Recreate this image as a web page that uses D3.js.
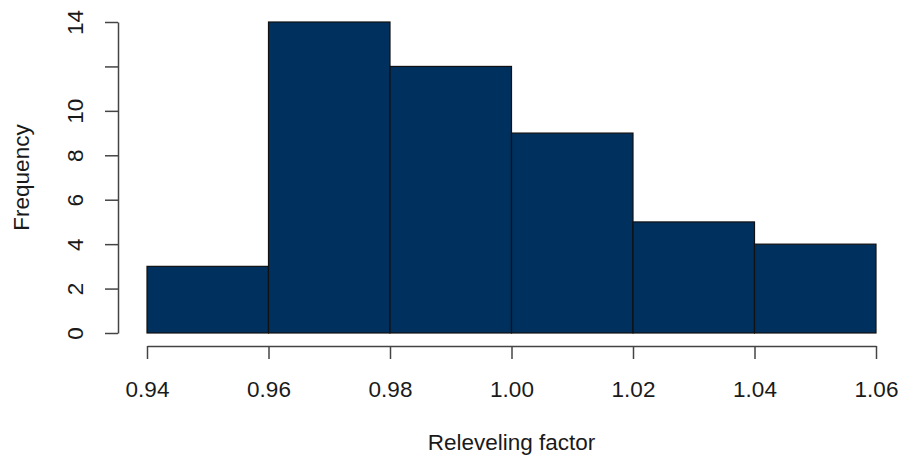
<!DOCTYPE html>
<html>
<head>
<meta charset="utf-8">
<script src="https://cdn.jsdelivr.net/npm/d3@7"></script>
<style>
    body { margin: 0; background: #fff; }
    svg text { font-family: "Liberation Sans", Arial, sans-serif; fill: #1a1a1a; }
</style>
</head>
<body>
<svg id="chart" width="904" height="465"></svg>
<script>
// histogram bins and counts
const binStarts = [0.94, 0.96, 0.98, 1.00, 1.02, 1.04];
const binWidth = 0.02;
const counts = [3, 14, 12, 9, 5, 4];

const xTicks = [0.94, 0.96, 0.98, 1.00, 1.02, 1.04, 1.06];
const yTicks = [0, 2, 4, 6, 8, 10, 12, 14];
const yTickLabels = ['0', '2', '4', '6', '8', '10', '', '14'];

const svg = d3.select('#chart');

const x = d3.scaleLinear().domain([0.94, 1.06]).range([147, 876]);
const y = d3.scaleLinear().domain([0, 14]).range([333, 22]);

const fontSize = 22.5;

// bars
svg.append('g')
    .selectAll('rect')
    .data(binStarts)
    .join('rect')
    .attr('x', d => x(d))
    .attr('y', (d, i) => y(counts[i]))
    .attr('width', d => x(d + binWidth) - x(d))
    .attr('height', (d, i) => y(0) - y(counts[i]))
    .attr('fill', '#00305e')
    .attr('stroke', '#111')
    .attr('stroke-width', 1.2);

// x axis, offset below the bars like base R
const xAxis = svg.append('g')
    .attr('transform', 'translate(0,346)')
    .call(d3.axisBottom(x)
        .tickValues(xTicks)
        .tickSize(13)
        .tickSizeOuter(0)
        .tickFormat(d3.format('.2f')));
xAxis.selectAll('path, line').attr('stroke', '#444').attr('stroke-width', 1.5);
xAxis.selectAll('text')
    .attr('y', 51)
    .attr('dy', 0)
    .style('font-size', fontSize + 'px')
    .style('font-family', '"Liberation Sans", Arial, sans-serif')
    .attr('fill', '#1a1a1a');

// y axis with rotated labels
const yAxis = svg.append('g')
    .attr('transform', 'translate(118,0)')
    .call(d3.axisLeft(y)
        .tickValues(yTicks)
        .tickSize(13)
        .tickSizeOuter(0)
        .tickFormat((d, i) => yTickLabels[i]));
yAxis.selectAll('path, line').attr('stroke', '#444').attr('stroke-width', 1.5);
yAxis.selectAll('text')
    .attr('transform', 'rotate(-90)')
    .attr('x', 0)
    .attr('y', -35)
    .attr('dy', 0)
    .attr('text-anchor', 'middle')
    .style('font-size', fontSize + 'px')
    .style('font-family', '"Liberation Sans", Arial, sans-serif')
    .attr('fill', '#1a1a1a');

// axis titles
svg.append('text')
    .attr('x', (x.range()[0] + x.range()[1]) / 2)
    .attr('y', 450)
    .attr('text-anchor', 'middle')
    .style('font-size', fontSize + 'px')
    .text('Releveling factor');

svg.append('text')
    .attr('transform', `translate(29,${(y.range()[0] + y.range()[1]) / 2}) rotate(-90)`)
    .attr('text-anchor', 'middle')
    .style('font-size', fontSize + 'px')
    .text('Frequency');
</script>
</body>
</html>
